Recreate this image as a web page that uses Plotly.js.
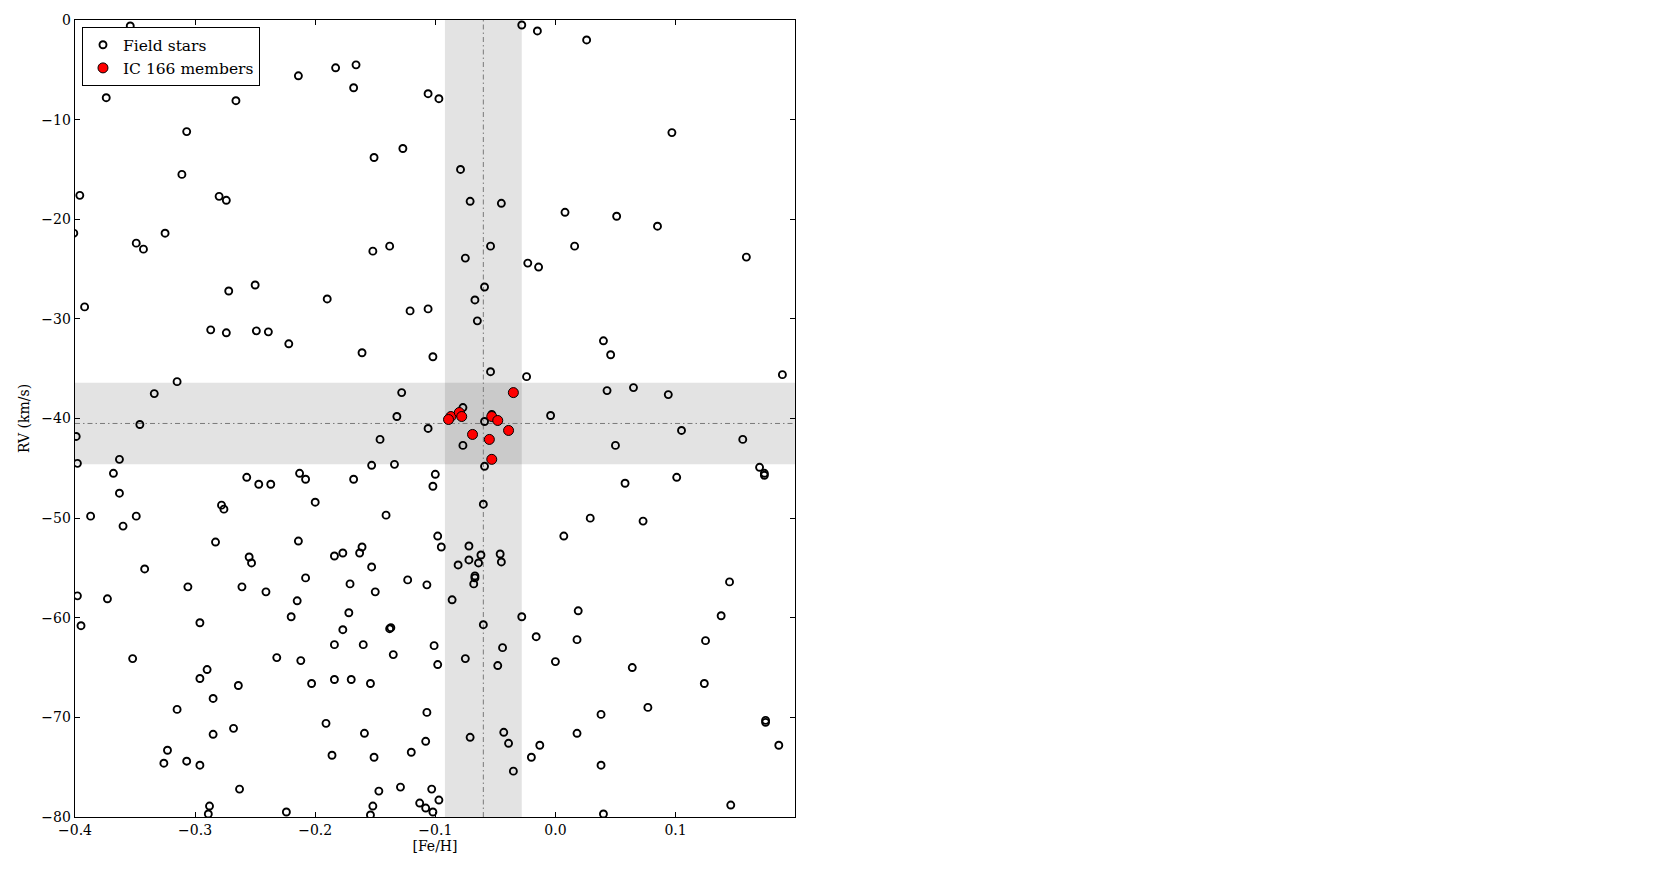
<!DOCTYPE html>
<html>
<head>
<meta charset="utf-8">
<script src="https://cdn.plot.ly/plotly-3.0.1.min.js"></script>
<style>html,body{margin:0;padding:0;background:#fff;}#chart{width:1661px;height:869px;}</style>
</head>
<body>
<div id="chart"></div>
<script>
// Field stars
const fieldFeH = [
 -0.354,-0.336,-0.374,-0.266,-0.214,-0.307,-0.311,-0.396,-0.280,-0.274,
 -0.028,-0.015,-0.183,-0.166,-0.168,-0.106,-0.097,-0.127,-0.151,-0.079,
 -0.071,-0.045,0.026,0.097,0.008,0.051,-0.401,-0.349,-0.343,-0.325,
 -0.392,-0.272,-0.250,-0.287,-0.274,-0.249,-0.239,-0.222,-0.315,-0.334,
 -0.152,-0.138,-0.190,-0.121,-0.106,-0.161,-0.102,-0.054,-0.075,-0.023,
 -0.014,-0.059,-0.067,-0.065,-0.054,-0.024,-0.128,0.085,0.016,0.159,
 0.040,0.046,0.189,0.043,0.065,0.094,-0.004,-0.346,-0.399,-0.398,
 -0.363,-0.368,-0.363,-0.387,-0.349,-0.360,-0.342,-0.398,-0.373,-0.257,
 -0.247,-0.237,-0.213,-0.208,-0.278,-0.276,-0.283,-0.255,-0.253,-0.214,
 -0.208,-0.306,-0.261,-0.241,-0.215,-0.220,-0.132,-0.106,-0.146,-0.153,
 -0.134,-0.168,-0.100,-0.102,-0.200,-0.141,-0.098,-0.095,-0.161,-0.163,
 -0.184,-0.177,-0.153,-0.171,-0.150,-0.123,-0.107,-0.172,-0.072,-0.081,
 -0.072,-0.062,-0.064,-0.046,-0.045,-0.067,-0.067,-0.068,-0.086,-0.060,
 -0.059,-0.077,-0.059,-0.028,-0.077,-0.053,0.050,0.105,0.156,0.170,
 0.174,0.174,0.058,0.101,0.029,0.073,0.007,0.145,0.019,0.138,
 -0.395,-0.296,-0.352,-0.290,-0.296,-0.264,-0.285,-0.315,-0.268,-0.285,
 -0.323,-0.326,-0.307,-0.296,-0.263,-0.288,-0.289,-0.224,-0.232,-0.212,
 -0.203,-0.177,-0.138,-0.137,-0.184,-0.160,-0.135,-0.101,-0.098,-0.184,
 -0.170,-0.154,-0.107,-0.191,-0.159,-0.108,-0.186,-0.151,-0.120,-0.147,
 -0.129,-0.103,-0.152,-0.154,-0.113,-0.108,-0.102,-0.097,-0.060,-0.016,
 -0.044,-0.075,-0.048,-0.071,-0.043,-0.039,-0.013,-0.020,-0.035,0.018,
 0.125,0.000,0.064,0.124,0.077,0.038,0.175,0.175,0.018,0.186,
 0.038,0.146,0.040
];
const fieldRV = [
 -0.6,-5.2,-7.8,-8.1,-5.6,-11.2,-15.5,-17.6,-17.7,-18.1,
 -0.5,-1.1,-4.8,-4.5,-6.8,-7.4,-7.9,-12.9,-13.8,-15.0,
 -18.2,-18.4,-2.0,-11.3,-19.3,-19.7,-21.4,-22.4,-23.0,-21.4,
 -28.8,-27.2,-26.6,-31.1,-31.4,-31.2,-31.3,-32.5,-36.3,-37.5,
 -23.2,-22.7,-28.0,-29.2,-29.0,-33.4,-33.8,-22.7,-23.9,-24.4,
 -24.8,-26.8,-28.1,-30.2,-35.3,-35.8,-37.4,-20.7,-22.7,-23.8,
 -32.2,-33.6,-35.6,-37.2,-36.9,-37.6,-39.7,-40.6,-41.8,-44.5,
 -44.1,-45.5,-47.5,-49.8,-49.8,-50.8,-55.1,-57.8,-58.1,-45.9,
 -46.6,-46.6,-45.5,-46.1,-48.7,-49.1,-52.4,-53.9,-54.5,-52.3,
 -56.0,-56.9,-56.9,-57.4,-58.3,-59.9,-39.8,-41.0,-42.1,-44.7,
 -44.6,-46.1,-45.6,-46.8,-48.4,-49.7,-51.8,-52.9,-52.9,-53.5,
 -53.8,-53.5,-54.9,-56.6,-57.4,-56.2,-56.7,-59.5,-52.8,-54.7,
 -54.2,-53.7,-54.5,-53.6,-54.4,-55.8,-56.0,-56.6,-58.2,-48.6,
 -44.8,-42.7,-40.3,-59.9,-38.9,-39.6,-42.7,-41.2,-42.1,-44.9,
 -45.5,-45.7,-46.5,-45.9,-50.0,-50.3,-51.8,-56.4,-59.3,-59.8,
 -60.8,-60.5,-64.1,-65.2,-66.1,-66.8,-68.1,-69.2,-71.1,-71.7,
 -73.3,-74.6,-74.4,-74.8,-77.2,-78.9,-79.7,-79.5,-64.0,-64.3,
 -66.6,-61.2,-61.1,-61.0,-62.7,-62.7,-63.7,-62.8,-64.7,-66.2,
 -66.2,-66.6,-69.5,-70.6,-71.6,-72.4,-73.8,-74.0,-73.5,-77.4,
 -77.0,-77.2,-78.9,-79.8,-78.6,-79.1,-79.5,-78.3,-60.7,-61.9,
 -63.0,-64.1,-64.8,-72.0,-71.5,-72.6,-72.8,-74.0,-75.4,-62.2,
 -62.3,-64.4,-65.0,-66.6,-69.0,-69.7,-70.3,-70.5,-71.6,-72.8,
 -74.8,-78.8,-79.7
];
// IC 166 members
const memberFeH = [-0.087,-0.089,-0.080,-0.078,-0.053,-0.048,-0.039,-0.069,-0.055,-0.053,-0.035];
const memberRV  = [-39.8,-40.1,-39.4,-39.8,-39.8,-40.2,-41.2,-41.6,-42.1,-44.1,-37.4];

// Cluster mean and 1-sigma spread
const meanFeH = -0.06, sigFeH = 0.032;
const meanRV = -40.5, sigRV = 4.1;

const xTicks = [-0.4,-0.3,-0.2,-0.1,0.0,0.1];
const yTicks = [0,-10,-20,-30,-40,-50,-60,-70,-80];

const FONT = 'DejaVu Serif, Liberation Serif, serif';

const traces = [
 {type:'scatter', mode:'markers', name:'Field stars', x:fieldFeH, y:fieldRV,
  marker:{symbol:'circle-open', size:7, color:'#000', line:{width:1.9, color:'#000'}}},
 {type:'scatter', mode:'markers', name:'IC 166 members', x:memberFeH, y:memberRV,
  marker:{symbol:'circle', size:10, color:'#ff0000', line:{width:1, color:'#000'}}}
];

const bandFill = 'rgba(0,0,0,0.11)';
const shapes = [
 {type:'rect', layer:'below', xref:'x', yref:'paper', x0:meanFeH-sigFeH, x1:meanFeH+sigFeH, y0:0, y1:1, fillcolor:bandFill, line:{width:0}},
 {type:'rect', layer:'below', xref:'paper', yref:'y', x0:0, x1:1, y0:meanRV-sigRV, y1:meanRV+sigRV, fillcolor:bandFill, line:{width:0}},
 {type:'line', layer:'below', xref:'x', yref:'paper', x0:meanFeH, x1:meanFeH, y0:0, y1:1, line:{color:'#7a7a7a', width:1, dash:'5px,3px,1.5px,3px'}},
 {type:'line', layer:'below', xref:'paper', yref:'y', x0:0, x1:1, y0:meanRV, y1:meanRV, line:{color:'#7a7a7a', width:1, dash:'5px,3px,1.5px,3px'}}
];

const axisCommon = {
 showline:true, linecolor:'#000', linewidth:1.3, mirror:'ticks',
 ticks:'inside', ticklen:5, tickwidth:1, tickcolor:'#000',
 showgrid:false, zeroline:false,
 tickfont:{family:FONT, size:14, color:'#000'}
};

const layout = {
 width:1661, height:869,
 margin:{l:75, r:866, t:20, b:52, pad:0},
 paper_bgcolor:'#fff', plot_bgcolor:'#fff',
 showlegend:true,
 legend:{x:0.0097, y:0.991, xanchor:'left', yanchor:'top', bgcolor:'#fff',
   bordercolor:'#000', borderwidth:1, font:{family:FONT, size:15.5, color:'#000'},
   tracegroupgap:0, itemsizing:'trace', itemwidth:30},
 xaxis:Object.assign({}, axisCommon, {range:[-0.4, 0.1995], tickvals:xTicks, tickformat:'.1f',
   title:{text:'[Fe/H]', font:{family:FONT, size:14, color:'#000'}, standoff:4}}),
 yaxis:Object.assign({}, axisCommon, {range:[-80, 0], tickvals:yTicks,
   title:{text:'RV (km/s)', font:{family:FONT, size:14, color:'#000'}, standoff:8}}),
 shapes:shapes
};

Plotly.newPlot('chart', traces, layout, {displayModeBar:false, staticPlot:true});
</script>
</body>
</html>
